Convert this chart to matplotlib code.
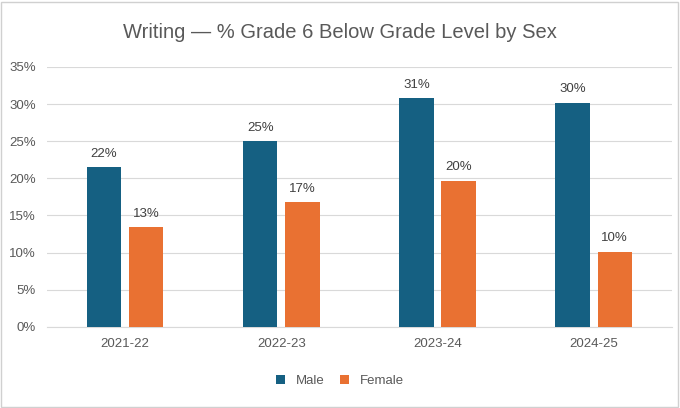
import matplotlib.pyplot as plt
from matplotlib.patches import Rectangle
import numpy as np

years = ["2021-22", "2022-23", "2023-24", "2024-25"]
male = [21.5, 25.0, 30.8, 30.2]
female = [13.4, 16.8, 19.7, 10.1]
yticks = [0, 5, 10, 15, 20, 25, 30, 35]

plt.rcParams["font.family"] = ["Liberation Sans", "DejaVu Sans"]

fig = plt.figure(figsize=(6.8, 4.08), dpi=100)
ax = fig.add_axes([0.069, 0.199, 0.919, 0.637])

x = np.arange(len(years))
w = 0.22
off = 0.135
bm = ax.bar(x - off, male, w, color="#156082", label="Male", zorder=3)
bf = ax.bar(x + off, female, w, color="#E97132", label="Female", zorder=3)

for bars in (bm, bf):
    for b in bars:
        ax.text(b.get_x() + b.get_width() / 2, b.get_height() + 1.0,
                f"{round(b.get_height()):.0f}%", ha="center", va="bottom",
                fontsize=9.5, color="#404040")

ax.set_xlim(-0.5, 3.5)
ax.set_ylim(0, 35)
ax.set_yticks(yticks)
ax.set_yticklabels([f"{t}%" for t in yticks])
ax.set_xticks(x)
ax.set_xticklabels(years)
ax.grid(axis="y", color="#d9d9d9", linewidth=0.8, zorder=0)
for s in ["top", "right", "left"]:
    ax.spines[s].set_visible(False)
ax.spines["bottom"].set_color("#d9d9d9")
ax.tick_params(length=0, labelsize=9.5, colors="#595959", pad=8)

fig.text(0.5, 0.92, "Writing — % Grade 6 Below Grade Level by Sex",
         ha="center", va="center", fontsize=14.5, color="#595959")
fig.legend(handles=[bm, bf], loc="center", bbox_to_anchor=(0.5, 0.066),
           ncol=2, frameon=False, fontsize=9.5, handlelength=0.7,
           handleheight=0.7, columnspacing=1.2, labelcolor="#595959")

fig.patches.append(Rectangle((0.002, 0.003), 0.995, 0.993, transform=fig.transFigure,
                             fill=False, edgecolor="#d0d0d0", linewidth=1))
fig.savefig("out.png", dpi=100)
